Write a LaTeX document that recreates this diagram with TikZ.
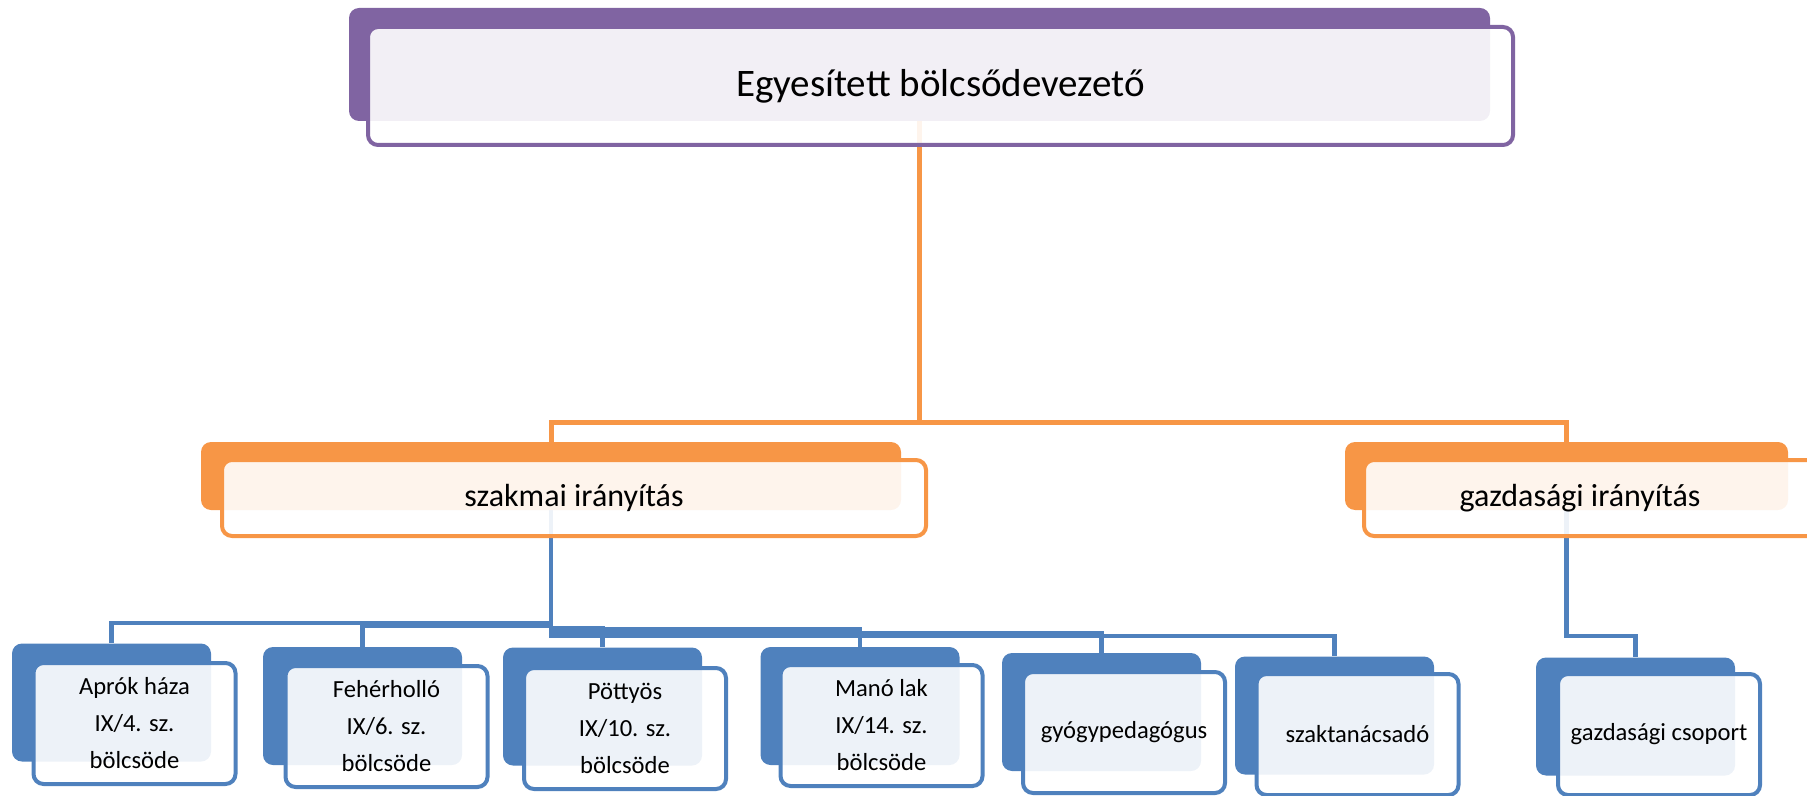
\documentclass[tikz,border=0pt]{standalone}
\usepackage{fontspec}
\setmainfont{Carlito}
\definecolor{cpurple}{HTML}{8064A2}
\definecolor{corange}{HTML}{F79646}
\definecolor{cblue}{HTML}{4F81BD}
\pgfdeclarelayer{bg}
\pgfsetlayers{bg,main}
\tikzset{
  backbox/.style={rectangle, rounded corners=5pt, inner sep=0pt, draw=none, fill=#1},
  frontbox/.style={rectangle, rounded corners=5pt, inner sep=0pt, draw=#1, line width=2pt,
     fill=white, fill opacity=0.9, text opacity=1, align=center},
  topsize/.style={minimum width=570.5pt, minimum height=56.5pt},
  midsize/.style={minimum height=34pt},
  smallback/.style={backbox=cblue, minimum width=99.5pt, minimum height=59pt},
  smallfront/.style={frontbox=cblue, minimum width=101pt, minimum height=60.5pt,
     font=\fontsize{12.3}{18.5}\selectfont},
  oconn/.style={draw=corange, line width=2.5pt},
  bconn/.style={draw=cblue, line width=2.2pt},
}
\begin{document}
\begin{tikzpicture}[x=0.5pt, y=-0.5pt]
\useasboundingbox (0,0) rectangle (1807,796);
% top
\node[backbox=cpurple, topsize] (tb) at (919.5,64.5) {};
\node[frontbox=cpurple, minimum width=572.5pt, minimum height=59pt,
  font=\fontsize{19.5}{23}\selectfont] (tf) at (940.5,86) {Egyesített bölcsődevezető};
% middle
\node[backbox=corange, midsize, minimum width=350pt] (sb) at (551,476) {};
\node[frontbox=corange, minimum width=352pt, minimum height=38pt,
  font=\fontsize{16}{19}\selectfont] (sf) at (574,498) {szakmai irányítás};
\node[backbox=corange, midsize, minimum width=221.5pt] (gb) at (1566.5,476) {};
\node[frontbox=corange, minimum width=232pt, minimum height=38pt,
  font=\fontsize{16}{19}\selectfont] (gf) at (1596,498) {\hspace*{-16pt}gazdasági irányítás};
% small boxes
\node[smallback] (b1) at (111.5,702.5) {};
\node[smallfront] (f1) at (134.5,723.5) {Aprók háza\\IX/4. sz.\\bölcsöde};
\node[smallback] (b2) at (362.5,706) {};
\node[smallfront] (f2) at (386.5,726.5) {Fehérholló\\IX/6. sz.\\bölcsöde};
\node[smallback] (b3) at (602.5,706.5) {};
\node[smallfront] (f3) at (625,728.5) {Pöttyös\\IX/10. sz.\\bölcsöde};
\node[smallback] (b4) at (860,706) {};
\node[smallfront] (f4) at (881.5,725.5) {Manó lak\\IX/14. sz.\\bölcsöde};
\node[smallback] (b5) at (1101.5,712) {};
\node[smallfront] (f5) at (1124,732.5) {gyógypedagógus};
\node[smallback] (b6) at (1334.5,715.5) {};
\node[smallfront] (f6) at (1357.5,734.5) {szaktanácsadó};
\node[smallback] (b7) at (1635.5,716.5) {};
\node[smallfront] (f7) at (1659,734.5) {gazdasági csoport};
% mid levels
\coordinate (mo) at (0,422);
\coordinate (m1) at (0,623);
\coordinate (m2) at (0,626);
\coordinate (m3) at (0,628);
\coordinate (m4) at (0,629);
\coordinate (m5) at (0,633);
\coordinate (m6) at (0,636);
\coordinate (m7) at (0,636);
\begin{pgfonlayer}{bg}
\draw[oconn] (tb.south) -- (tb.south |- mo) -- (sb.north |- mo) -- (sb.north);
\draw[oconn] (tb.south |- mo) -- (gb.north |- mo) -- (gb.north);
\foreach \i in {1,...,6}{
  \draw[bconn] (sb.south) -- (sb.south |- m\i) -- (b\i.north |- m\i) -- (b\i.north);
}
\draw[bconn] (gb.south) -- (gb.south |- m7) -- (b7.north |- m7) -- (b7.north);
\end{pgfonlayer}
\end{tikzpicture}
\end{document}
